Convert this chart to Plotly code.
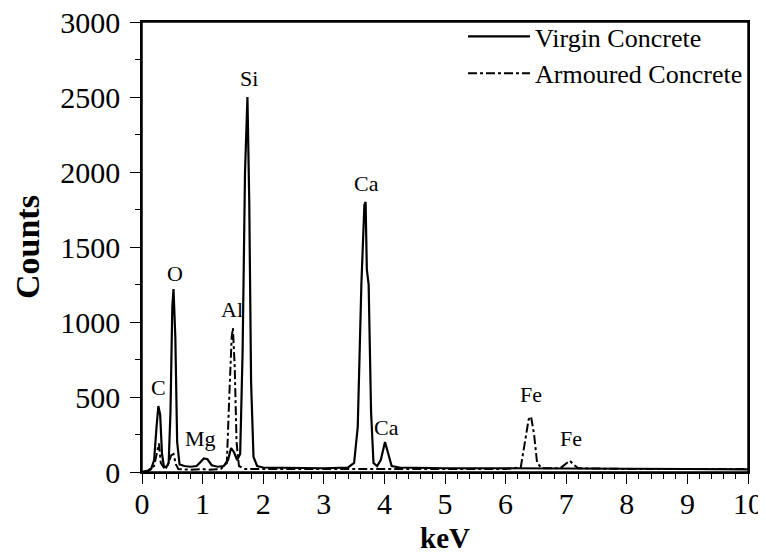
import plotly.graph_objects as go

# Virgin concrete spectrum (keV, counts)
virgin_kev = [0.0, 0.1, 0.15, 0.2, 0.24, 0.27, 0.3, 0.33, 0.36, 0.4, 0.44, 0.47, 0.5, 0.52, 0.55, 0.58, 0.62,
              0.7, 0.8, 0.9, 0.95, 1.02, 1.08, 1.15, 1.25, 1.35, 1.42, 1.47, 1.52, 1.57, 1.62, 1.66, 1.70, 1.74,
              1.77, 1.80, 1.84, 1.9, 2.0, 2.5, 3.0, 3.4, 3.5, 3.56, 3.62, 3.67, 3.69, 3.71, 3.74, 3.78, 3.82,
              3.88, 3.94, 4.01, 4.06, 4.12, 4.25, 5.0, 6.0, 7.0, 8.0, 9.0, 10.0]
virgin_counts = [0, 5, 20, 80, 300, 440, 380, 120, 40, 30, 60, 400, 1100, 1220, 900, 200, 50,
                 40, 35, 40, 60, 90, 85, 45, 35, 40, 80, 160, 130, 80, 120, 800, 2000, 2500,
                 1800, 600, 100, 40, 30, 25, 25, 30, 60, 300, 1250, 1780, 1800, 1350, 1250, 400, 60,
                 40, 80, 200, 120, 40, 30, 25, 25, 25, 20, 20, 18]

# Armoured concrete spectrum (keV, counts)
armoured_kev = [0.0, 0.1, 0.2, 0.25, 0.28, 0.31, 0.36, 0.42, 0.48, 0.52, 0.56, 0.6, 0.8, 1.0, 1.1, 1.3,
                1.4, 1.44, 1.48, 1.5, 1.53, 1.56, 1.6, 1.7, 2.0, 3.0, 4.0, 5.0, 6.0, 6.25, 6.32, 6.38,
                6.42, 6.47, 6.52, 6.6, 6.9, 7.0, 7.06, 7.12, 7.2, 8.0, 10.0]
armoured_counts = [0, 10, 40, 150, 190, 60, 30, 40, 110, 120, 50, 20, 15, 20, 15, 20,
                   60, 500, 900, 960, 700, 200, 40, 20, 20, 20, 20, 20, 20, 30, 200, 350,
                   370, 250, 60, 25, 25, 55, 75, 50, 25, 20, 20]

# Peak labels
label_text = ["C", "O", "Mg", "Al", "Si", "Ca", "Ca", "Fe", "Fe"]
label_kev = [0.27, 0.55, 0.97, 1.49, 1.77, 3.70, 4.04, 6.42, 7.08]
label_counts = [470, 1230, 130, 990, 2530, 1830, 200, 420, 130]

FONT = "Liberation Serif"

fig = go.Figure()
fig.add_trace(go.Scatter(x=virgin_kev, y=virgin_counts, mode="lines", name="Virgin Concrete",
                         line=dict(color="black", width=2.2)))
fig.add_trace(go.Scatter(x=armoured_kev, y=armoured_counts, mode="lines", name="Armoured Concrete",
                         line=dict(color="black", width=2, dash="dashdot")))

for t, xk, yc in zip(label_text, label_kev, label_counts):
    fig.add_annotation(x=xk, y=yc, text=t, showarrow=False, yanchor="bottom",
                       font=dict(family=FONT, size=22, color="black"))

# Axis titles
fig.add_annotation(xref="paper", yref="paper", x=0.5, y=0, yshift=-66, text="<b>keV</b>",
                   showarrow=False, xanchor="center", yanchor="middle",
                   font=dict(family=FONT, size=29, color="black"))
fig.add_annotation(xref="paper", yref="paper", x=0, y=0.5, xshift=-115, text="<b>Counts</b>",
                   showarrow=False, textangle=-90, xanchor="center", yanchor="middle",
                   font=dict(family=FONT, size=34, color="black"))

# Plot frame
fig.add_shape(type="rect", xref="paper", yref="paper", x0=0, y0=0, x1=1, y1=1,
              line=dict(color="black", width=1.5), layer="above")

axis_common = dict(showline=True, linecolor="black", linewidth=1.5, mirror=True, showgrid=False,
                   zeroline=False, ticks="outside", ticklen=10, tickwidth=1.3, tickcolor="black",
                   automargin=False, ticklabeloverflow="allow",
                   tickfont=dict(family=FONT, size=30, color="black"))

fig.update_xaxes(range=[0, 10], dtick=1, tick0=0, ticklabelstandoff=-6,
                 minor=dict(dtick=0.2, ticks="outside", ticklen=5, tickcolor="black", tickwidth=1),
                 **axis_common)
fig.update_yaxes(range=[0, 3000], dtick=500, tick0=0, ticklabelstandoff=4,
                 minor=dict(dtick=250, ticks="outside", ticklen=5, tickcolor="black", tickwidth=1),
                 **axis_common)

fig.update_layout(
    width=758, height=546,
    margin=dict(l=134, r=18, t=14, b=82, autoexpand=False),
    plot_bgcolor="white", paper_bgcolor="white",
    legend=dict(x=1, y=1.02, xanchor="right", yanchor="top", borderwidth=0,
                bgcolor="rgba(0,0,0,0)", font=dict(family=FONT, size=26, color="black"),
                tracegroupgap=0, itemwidth=62),
    showlegend=True,
)

fig.write_html("out.html")
